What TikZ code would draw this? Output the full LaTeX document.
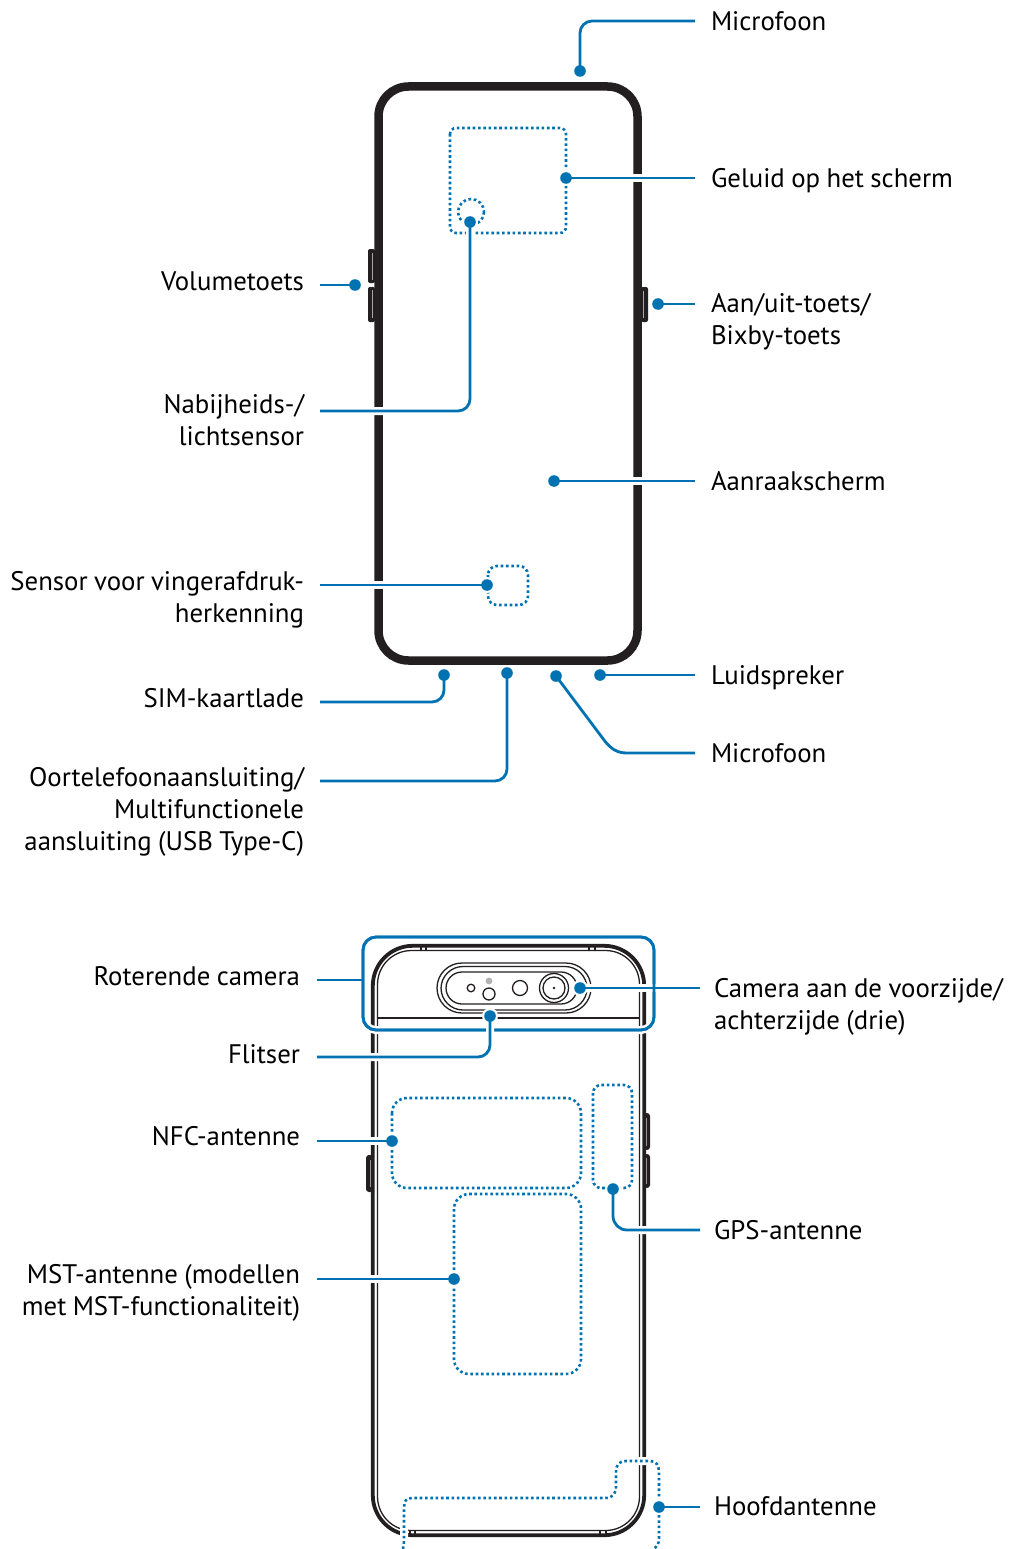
\documentclass[tikz,border=0pt]{standalone}
\usepackage{fontspec}
\setmainfont[WordSpace=0.9]{PT Sans}
\usetikzlibrary{calc}
\pgfdeclarelayer{front}
\pgfsetlayers{main,front}
\definecolor{lblue}{HTML}{0072B2}
\definecolor{pblack}{HTML}{231F20}
\newcommand\lst{\rule[-6.5pt]{0pt}{32pt}}
\tikzset{
  x=1pt,y=-1pt,
  lbl/.style={inner sep=0pt,outer sep=0pt,text=black,font=\fontsize{26.8}{32}\selectfont},
  lblL/.style={lbl,anchor=east,align=right},
  lblR/.style={lbl,anchor=west,align=left},
  bdot/.style={circle,fill=lblue,minimum size=11.6pt,inner sep=0pt,outer sep=0pt},
  lead/.style={draw=lblue,line width=2.8pt,preaction={draw=white,line width=8pt}},
  leadplain/.style={draw=lblue,line width=2.8pt},
  dotline/.style={draw=lblue,line width=2.6pt,dash pattern=on 2.6pt off 2.7pt},
  dotlinehalo/.style={draw=white,line width=8pt},
  thick phone/.style={draw=pblack,line width=8.5pt},
  shell/.style={draw=pblack,line width=3.8pt},
  thinl/.style={draw=pblack,line width=1.3pt},
  rotbox/.style={draw=lblue,line width=2.8pt,rounded corners=13pt,minimum width=291pt,minimum height=93pt,inner sep=0pt,outer sep=0pt},
}
\begin{document}
\begin{tikzpicture}
\useasboundingbox (0,0) rectangle (1010,1549);
\fill[white] (0,0) rectangle (1010,1549);

% ---------- front view
\fill[pblack,rounded corners=2pt] (368,249) rectangle (375,283);
\fill[pblack,rounded corners=2pt] (368,287) rectangle (375,322);
\fill[pblack,rounded corners=2pt] (641,287) rectangle (648,322);
\draw[black!35,line width=0.9pt] (372.8,253) -- (372.8,280) (372.8,290) -- (372.8,318);
\draw[black!35,line width=0.9pt] (643.2,291) -- (643.2,318);
\draw[thick phone,rounded corners=30pt] (378.5,86.5) rectangle (637.5,660.5);
\draw[dotline,rounded corners=6pt] (450,128) rectangle (566,233);
\draw[dotline] (471,212) circle (13);
\draw[dotline,rounded corners=9pt] (488,566) rectangle (528,605);

% ---------- back view
\fill[pblack,rounded corners=3pt] (366,1155) rectangle (373,1192);
\fill[pblack,rounded corners=3pt] (644,1113) rectangle (650,1150);
\fill[pblack,rounded corners=3pt] (644,1154) rectangle (650,1188);
\draw[black!35,line width=0.8pt] (370.2,1160) -- (370.2,1187);
\draw[black!35,line width=0.8pt] (646.6,1118) -- (646.6,1146);
\draw[black!35,line width=0.8pt] (646.6,1158) -- (646.6,1184);
\draw[shell,rounded corners=40pt] (372.8,945.8) rectangle (644.2,1535.2);
\draw[thinl,rounded corners=34pt] (377.5,950.5) rectangle (639.5,1530.5);
\draw[thinl] (421,946) -- (421,950) (426,946) -- (426,950) (589,946) -- (589,950) (595,946) -- (595,950);
\draw[thinl] (410,1531) -- (410,1534) (415,1531) -- (415,1534) (600,1531) -- (600,1534) (606,1531) -- (606,1534);
\draw[thinl] (377,1018) -- (640,1018);
% camera
\draw[thinl,rounded corners=25pt] (437,963) rectangle (591,1013);
\draw[thinl,rounded corners=22pt] (441,966.5) rectangle (587,1010);
\draw[thinl,rounded corners=16pt] (446,972) rectangle (577,1004);
\draw[thinl] (471,988) circle (3.8);
\fill[black!30] (489,981) circle (3.4);
\draw[thinl] (489,994) circle (6);
\draw[thinl] (520,988) circle (7.5);
\draw[thinl] (554,988) circle (14.5);
\draw[thinl] (554,988) circle (11);
\fill[pblack] (554,988) circle (1.4);
% dotted antenna areas
\draw[dotline,rounded corners=15pt] (392,1098) rectangle (581,1188);
\draw[dotline,rounded corners=8pt] (593,1085) rectangle (632,1188);
\draw[dotline,rounded corners=15pt] (454,1194) rectangle (581,1374);
\draw[dotlinehalo] (403,1549) .. controls (404,1544) and (404,1540) .. (404,1536) -- (404,1508) .. controls (404,1501) and (406,1498) .. (412,1498) -- (605,1498) .. controls (613,1498) and (616,1494) .. (616,1486) -- (616,1472) .. controls (616,1465) and (619,1461) .. (626,1461) -- (650,1461) .. controls (656,1461) and (659,1465) .. (659,1472) -- (659,1538) .. controls (659,1544) and (657,1547) .. (653,1549);
\draw[dotline] (403,1549) .. controls (404,1544) and (404,1540) .. (404,1536) -- (404,1508) .. controls (404,1501) and (406,1498) .. (412,1498) -- (605,1498) .. controls (613,1498) and (616,1494) .. (616,1486) -- (616,1472) .. controls (616,1465) and (619,1461) .. (626,1461) -- (650,1461) .. controls (656,1461) and (659,1465) .. (659,1472) -- (659,1538) .. controls (659,1544) and (657,1547) .. (653,1549);

% ---------- dots and labels
\begin{pgfonlayer}{front}
\node[bdot] (dMicT) at (580,71) {};
\node[bdot] (dGel) at (566,178) {};
\node[bdot] (dVol) at (355,285) {};
\node[bdot] (dAan) at (658,304) {};
\node[bdot] (dNab) at (470,222) {};
\node[bdot] (dTou) at (554,481) {};
\node[bdot] (dSen) at (487,585) {};
\node[bdot] (dSim) at (444,675) {};
\node[bdot] (dOor) at (507,673) {};
\node[bdot] (dMicB) at (556,676) {};
\node[bdot] (dLui) at (600,675) {};
\node[bdot] (dCam) at (580,988) {};
\node[bdot] (dFli) at (490,1016) {};
\node[bdot] (dNfc) at (392,1141) {};
\node[bdot] (dGps) at (613,1189) {};
\node[bdot] (dMst) at (454,1279) {};
\node[bdot] (dHoo) at (659,1507) {};

\node[lblR] (tMicT) at (711,21) {\lst Microfoon};
\node[lblR] (tGel) at (711,178) {\lst Geluid op het scherm};
\node[lblL] (tVol) at (304,281) {\lst Volumetoets};
\node[lblR] (tAan) at (711,319) {\lst Aan/uit-toets/\\\lst Bixby-toets};
\node[lblL] (tNab) at (304,420) {\lst Nabijheids-/\\\lst lichtsensor};
\node[lblR] (tTou) at (711,481) {\lst Aanraakscherm};
\node[lblL] (tSen) at (304,597) {\lst Sensor voor vingerafdruk-\\\lst herkenning};
\node[lblR] (tLui) at (711,675) {\lst Luidspreker};
\node[lblL] (tSim) at (304,698) {\lst SIM-kaartlade};
\node[lblR] (tMicB) at (711,753) {\lst Microfoon};
\node[lblL] (tOor) at (304,809) {\lst Oortelefoonaansluiting/\\\lst Multifunctionele\\\lst aansluiting (USB Type-C)};
\node[lblL] (tRot) at (300,976) {\lst Roterende camera};
\node[lblR] (tCam) at (714,1004) {\lst Camera aan de voorzijde/\\\lst achterzijde (drie)};
\node[lblL] (tFli) at (300,1054) {\lst Flitser};
\node[lblL] (tNfc) at (300,1136) {\lst NFC-antenne};
\node[lblR] (tGps) at (714,1230) {\lst GPS-antenne};
\node[lblL] (tMst) at (300,1290) {\lst MST-antenne (modellen\\\lst met MST-functionaliteit)};
\node[lblR] (tHoo) at (714,1506) {\lst Hoofdantenne};
\end{pgfonlayer}

% ---------- white clearing round the dots
\foreach \d in {dGel,dVol,dNab,dSen,dCam,dFli,dNfc,dGps,dMst,dHoo}
  \fill[white] (\d.center) circle (8);

% ---------- free ends
\coordinate (eMicT) at (695,21);
\coordinate (eGel) at (695,178);
\coordinate (eVol) at (320,285);
\coordinate (eAan) at (695,304);
\coordinate (eNab) at (320,411);
\coordinate (eTou) at (695,481);
\coordinate (eSen) at (320,585);
\coordinate (eSim) at (320,702);
\coordinate (eOor) at (320,781);
\coordinate (eMicB) at (695,753);
\coordinate (eLui) at (695,675);
\coordinate (eRot) at (317,980);
\coordinate (eCam) at (700,988);
\coordinate (eFli) at (317,1057);
\coordinate (eNfc) at (317,1141);
\coordinate (eGps) at (700,1230);
\coordinate (eMst) at (317,1279);
\coordinate (eHoo) at (700,1507);

% ---------- connectors
\draw[lead,rounded corners=12pt] (dMicT.center) |- (eMicT);
\draw[lead] (dGel.center) -- (eGel);
\draw[lead] (dVol.center) -- (eVol);
\draw[lead] (dAan.center) -- (eAan);
\draw[lead,rounded corners=12pt] (dNab.center) |- (eNab);
\draw[lead] (dTou.center) -- (eTou);
\draw[lead] (dSen.center) -- (eSen);
\draw[lead,rounded corners=12pt] (dSim.center) |- (eSim);
\draw[lead,rounded corners=12pt] (dOor.center) |- (eOor);
\draw[lead] (dLui.center) -- (eLui);
\draw[lead] (dMicB.center) -- (604,740) .. controls (611,749) and (617,753) .. (627,753) -- (eMicB);
\draw[lead] (dNfc.center) -- (eNfc);
\draw[lead,rounded corners=14pt] (dGps.center) |- (eGps);
\draw[lead] (dMst.center) -- (eMst);
\draw[lead] (dHoo.center) -- (eHoo);

% rotating camera frame
\node[rotbox,preaction={draw=white,line width=8pt}] (rot) at (508.5,983.5) {};
\draw[lead] (dCam.center) -- (eCam);
\node[rotbox] (rotb) at (508.5,983.5) {};
\draw[lead,rounded corners=12pt] (dFli.center) |- (eFli);
\draw[leadplain] (eRot) -- (rot.west |- eRot);
\end{tikzpicture}
\end{document}
